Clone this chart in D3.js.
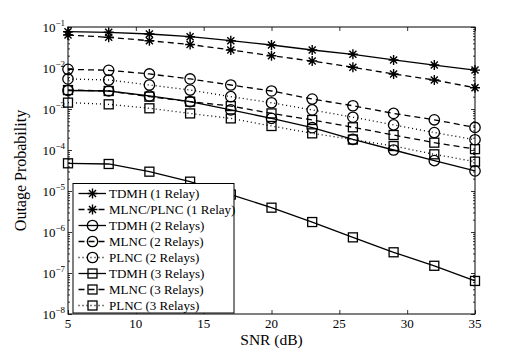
<!DOCTYPE html>
<html>
<head>
<meta charset="utf-8">
<script src="https://cdn.jsdelivr.net/npm/d3@7"></script>
<style>
  body { margin: 0; background: #fff; }
  svg text { font-family: "Liberation Serif", "Times New Roman", serif; }
</style>
</head>
<body>
<div id="chart"></div>
<script>
// SNR points (dB)
const snr = [5, 8, 11, 14, 17, 20, 23, 26, 29, 32, 35];

// outage probability per scheme
const tdmh1 = [0.0768, 0.0743, 0.0675, 0.058, 0.0463, 0.0364, 0.0275, 0.0216, 0.0157, 0.0118, 0.0089];
const nc1 = [0.0638, 0.0561, 0.0463, 0.0374, 0.0275, 0.0199, 0.0148, 0.0104, 0.00715, 0.0051, 0.0033];
const tdmh2 = [0.00283, 0.00275, 0.00208, 0.00151, 0.00095, 0.00059, 0.00035, 0.000182, 0.0001, 5.5e-5, 3.08e-5];
const mlnc2 = [0.0093, 0.0088, 0.00715, 0.0054, 0.00385, 0.00275, 0.00175, 0.0012, 0.00078, 0.000545, 0.000355];
const plnc2 = [0.0054, 0.0051, 0.00385, 0.0029, 0.002, 0.00142, 0.00095, 0.00063, 0.00041, 0.000267, 0.000178];
const tdmh3 = [4.74e-5, 4.56e-5, 2.96e-5, 1.69e-5, 8.2e-6, 3.92e-6, 1.75e-6, 7.4e-7, 3.2e-7, 1.5e-7, 6.4e-8];
const mlnc3 = [0.0029, 0.00275, 0.002, 0.00151, 0.00118, 0.00078, 0.00054, 0.000358, 0.000232, 0.000151, 0.000105];
const plnc3 = [0.00143, 0.0013, 0.00104, 0.00078, 0.00059, 0.000385, 0.000255, 0.00018, 0.000125, 7.85e-5, 5.2e-5];

const seriesNames = ["TDMH (1 Relay)", "MLNC/PLNC (1 Relay)", "TDMH (2 Relays)", "MLNC (2 Relays)",
                     "PLNC (2 Relays)", "TDMH (3 Relays)", "MLNC (3 Relays)", "PLNC (3 Relays)"];
const seriesValues = [tdmh1, nc1, tdmh2, mlnc2, plnc2, tdmh3, mlnc3, plnc3];
const seriesMarker = ["star", "star", "circle", "circle", "circle", "square", "square", "square"];
const seriesDash = ["solid", "dashed", "solid", "dashed", "dotted", "solid", "dashed", "dotted"];

const xTicks = [5, 10, 15, 20, 25, 30, 35];
const yExponents = [-1, -2, -3, -4, -5, -6, -7, -8];

const width = 525, height = 354;
const margin = {top: 27, right: 50, bottom: 40, left: 68};
const serif = "'Liberation Serif', 'Times New Roman', serif";

const svg = d3.select("#chart").append("svg")
  .attr("width", width)
  .attr("height", height)
  .attr("font-family", serif);

const x = d3.scaleLinear().domain([5, 35]).range([margin.left, width - margin.right]);
const y = d3.scaleLog().domain([1e-8, 1e-1]).range([height - margin.bottom, margin.top]);

const dashArray = {solid: null, dashed: "6,4", dotted: "1,3"};

// major + minor tick values on log axis
const minorVals = [];
for (let e = -8; e < -1; e++) {
  for (let m = 2; m <= 9; m++) minorVals.push(m * Math.pow(10, e));
}
const majorVals = yExponents.map(e => Math.pow(10, e));

function styleAxis(g) {
  g.select(".domain").remove();
  g.selectAll("line").attr("stroke", "#000").attr("stroke-width", 0.8);
  g.selectAll("text").remove();
}

// x ticks (bottom and top, inward)
svg.append("g")
  .attr("transform", `translate(0,${y.range()[0]})`)
  .call(d3.axisBottom(x).tickValues(xTicks).tickSize(-4))
  .call(styleAxis);
svg.append("g")
  .attr("transform", `translate(0,${y.range()[1]})`)
  .call(d3.axisTop(x).tickValues(xTicks).tickSize(-4))
  .call(styleAxis);

// y ticks (left and right, inward)
[[d3.axisLeft, x.range()[0]], [d3.axisRight, x.range()[1]]].forEach(([ax, px]) => {
  svg.append("g")
    .attr("transform", `translate(${px},0)`)
    .call(ax(y).tickValues(majorVals).tickSize(-4))
    .call(styleAxis);
  svg.append("g")
    .attr("transform", `translate(${px},0)`)
    .call(ax(y).tickValues(minorVals).tickSize(-2))
    .call(styleAxis);
});

// x tick labels
svg.append("g").selectAll("text")
  .data(xTicks)
  .join("text")
  .attr("x", d => x(d))
  .attr("y", y.range()[0] + 14)
  .attr("text-anchor", "middle")
  .attr("font-family", serif)
  .attr("font-size", 13)
  .text(d => d);

// y tick labels with superscript
const yl = svg.append("g").selectAll("text")
  .data(yExponents)
  .join("text")
  .attr("x", x.range()[0] - 3)
  .attr("y", d => y(Math.pow(10, d)) + 4.5)
  .attr("text-anchor", "end")
  .attr("font-family", serif)
  .attr("font-size", 13);
yl.append("tspan").text("10");
yl.append("tspan").attr("dy", -6).attr("font-size", 9).text(d => "\u2212" + Math.abs(d));

// axis titles
svg.append("text")
  .attr("x", (x.range()[0] + x.range()[1]) / 2)
  .attr("y", height - 9)
  .attr("text-anchor", "middle")
  .attr("font-family", serif)
  .attr("font-size", 15.5)
  .text("SNR (dB)");
svg.append("text")
  .attr("transform", `translate(26,${(y.range()[0] + y.range()[1]) / 2}) rotate(-90)`)
  .attr("text-anchor", "middle")
  .attr("font-family", serif)
  .attr("font-size", 16)
  .text("Outage Probability");

// marker drawer
function drawMarker(g, type) {
  if (type === "circle") {
    g.append("circle").attr("r", 5.2).attr("fill", "none").attr("stroke", "#000").attr("stroke-width", 1.3);
  } else if (type === "square") {
    g.append("rect").attr("x", -4.5).attr("y", -4.5).attr("width", 9).attr("height", 9)
      .attr("fill", "none").attr("stroke", "#000").attr("stroke-width", 1.3);
  } else {
    const r = 5;
    const d = r * Math.SQRT1_2;
    g.append("path")
      .attr("d", `M${-r},0H${r}M0,${-r}V${r}M${-d},${-d}L${d},${d}M${-d},${d}L${d},${-d}`)
      .attr("stroke", "#000").attr("stroke-width", 1.4).attr("fill", "none");
  }
}

const line = d3.line().x((d, i) => x(snr[i])).y(d => y(d));

const plot = svg.append("g");
seriesValues.forEach((vals, s) => {
  plot.append("path")
    .datum(vals)
    .attr("d", line)
    .attr("fill", "none")
    .attr("stroke", "#000")
    .attr("stroke-width", 1.3)
    .attr("stroke-dasharray", dashArray[seriesDash[s]]);
  plot.append("g").selectAll("g")
    .data(vals)
    .join("g")
    .attr("transform", (d, i) => `translate(${x(snr[i])},${y(d)})`)
    .each(function() { drawMarker(d3.select(this), seriesMarker[s]); });
});

// frame
svg.append("rect")
  .attr("x", x.range()[0]).attr("y", y.range()[1])
  .attr("width", x.range()[1] - x.range()[0])
  .attr("height", y.range()[0] - y.range()[1])
  .attr("fill", "none").attr("stroke", "#000").attr("stroke-width", 1);

// legend
const legend = svg.append("g").attr("transform", "translate(73,183.5)");
legend.append("rect")
  .attr("width", 161).attr("height", 129.5)
  .attr("fill", "#fff").attr("stroke", "#000").attr("stroke-width", 1);
seriesNames.forEach((name, i) => {
  const row = legend.append("g").attr("transform", `translate(0,${10 + i * 16})`);
  row.append("line")
    .attr("x1", 5.5).attr("x2", 33)
    .attr("stroke", "#000").attr("stroke-width", 1.3)
    .attr("stroke-dasharray", dashArray[seriesDash[i]]);
  const m = row.append("g").attr("transform", "translate(19.5,0)");
  drawMarker(m, seriesMarker[i]);
  row.append("text")
    .attr("x", 36).attr("y", 4.5)
    .attr("font-family", serif)
    .attr("font-size", 13)
    .text(name);
});
</script>
</body>
</html>
